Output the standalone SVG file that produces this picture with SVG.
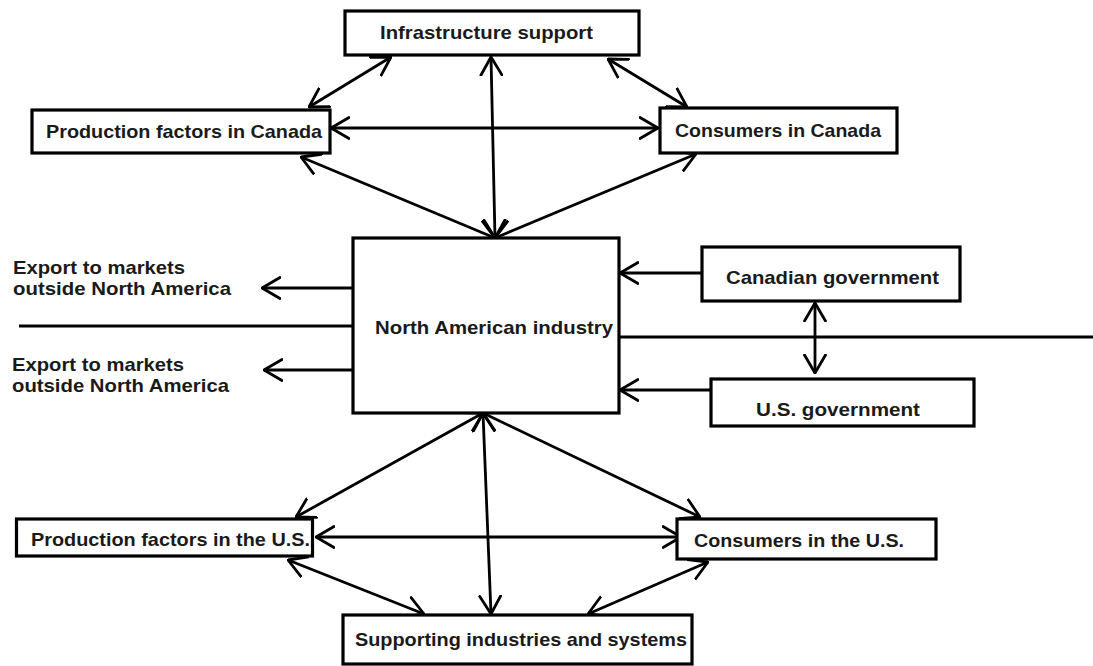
<svg xmlns="http://www.w3.org/2000/svg" width="1093" height="666" viewBox="0 0 1093 666">
<style>
.box{fill:#fff;stroke:#000;stroke-width:3.2}
.t{font-family:"Liberation Sans",Arial,sans-serif;font-weight:bold;font-size:19px;fill:#1a1a1a}
.c{stroke:#000;stroke-width:2.8;fill:none}
.d{marker-start:url(#ah);marker-end:url(#ah)}
.s{marker-end:url(#ah)}
</style>
<defs>
<marker id="ah" viewBox="0 0 20 24" refX="19" refY="12" markerWidth="20" markerHeight="24" markerUnits="userSpaceOnUse" orient="auto-start-reverse">
<path d="M1,1.5 L19,12 L1,22.5" fill="none" stroke="#000" stroke-width="2.8" stroke-linecap="round" stroke-linejoin="round"/>
</marker>
</defs>
<rect width="1093" height="666" fill="#fff"/>
<g id="connectors">
<line class="c" x1="19" y1="326" x2="353" y2="326"/>
<line class="c" x1="619" y1="337" x2="1093" y2="337"/>
<line class="c d" x1="391" y1="57" x2="309" y2="107"/>
<line class="c d" x1="608" y1="59" x2="687" y2="107"/>
<line class="c d" x1="331" y1="128" x2="658" y2="128"/>
<line class="c d" x1="491" y1="57" x2="495" y2="238"/>
<line class="c d" x1="301" y1="157" x2="495" y2="238"/>
<line class="c d" x1="696" y1="154" x2="495" y2="238"/>
<line class="c d" x1="483" y1="413" x2="296" y2="517"/>
<line class="c d" x1="483" y1="413" x2="491" y2="614"/>
<line class="c d" x1="483" y1="413" x2="700" y2="517"/>
<line class="c d" x1="316" y1="537" x2="681" y2="537"/>
<line class="c d" x1="288" y1="560" x2="424" y2="614"/>
<line class="c d" x1="708" y1="562" x2="588" y2="614"/>
<line class="c d" x1="815" y1="303" x2="815" y2="373"/>
<line class="c s" x1="353" y1="288" x2="262" y2="288"/>
<line class="c s" x1="353" y1="370" x2="264" y2="370"/>
<line class="c s" x1="702" y1="273" x2="620" y2="273"/>
<line class="c s" x1="711" y1="390" x2="620" y2="390"/>
</g>
<g id="infra"><rect class="box" x="345" y="11" width="294" height="44"/><text class="t" x="380" y="39" textLength="213" lengthAdjust="spacingAndGlyphs">Infrastructure support</text></g>
<g id="prodCA"><rect class="box" x="32" y="110" width="298" height="43"/><text class="t" x="46" y="138" textLength="276" lengthAdjust="spacingAndGlyphs">Production factors in Canada</text></g>
<g id="consCA"><rect class="box" x="660" y="108" width="237" height="45"/><text class="t" x="675" y="137" textLength="206" lengthAdjust="spacingAndGlyphs">Consumers in Canada</text></g>
<g id="na"><rect class="box" x="353" y="238" width="266" height="175"/><text class="t" x="375" y="334" textLength="238" lengthAdjust="spacingAndGlyphs">North American industry</text></g>
<g id="canGov"><rect class="box" x="702" y="247" width="258" height="54"/><text class="t" x="726" y="284" textLength="213" lengthAdjust="spacingAndGlyphs">Canadian government</text></g>
<g id="usGov"><rect class="box" x="711" y="379" width="263" height="47"/><text class="t" x="756" y="416" textLength="164" lengthAdjust="spacingAndGlyphs">U.S. government</text></g>
<g id="prodUS"><rect class="box" x="16.5" y="519" width="296" height="37"/><text class="t" x="31" y="546" textLength="279" lengthAdjust="spacingAndGlyphs">Production factors in the U.S.</text></g>
<g id="consUS"><rect class="box" x="677" y="519" width="259" height="40"/><text class="t" x="694" y="547" textLength="210" lengthAdjust="spacingAndGlyphs">Consumers in the U.S.</text></g>
<g id="supp"><rect class="box" x="343" y="615" width="349" height="49"/><text class="t" x="355" y="646" textLength="332" lengthAdjust="spacingAndGlyphs">Supporting industries and systems</text></g>
<g id="export1"><text class="t" x="13" y="274" textLength="172" lengthAdjust="spacingAndGlyphs">Export to markets</text><text class="t" x="13" y="295" textLength="218" lengthAdjust="spacingAndGlyphs">outside North America</text></g>
<g id="export2"><text class="t" x="12" y="371" textLength="172" lengthAdjust="spacingAndGlyphs">Export to markets</text><text class="t" x="12" y="392" textLength="217" lengthAdjust="spacingAndGlyphs">outside North America</text></g>
</svg>
